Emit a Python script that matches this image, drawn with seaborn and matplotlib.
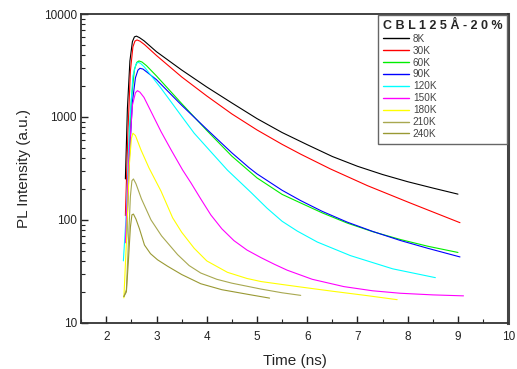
import matplotlib
matplotlib.use("Agg")
import matplotlib.pyplot as plt
import matplotlib.ticker as mticker
import numpy as np
import seaborn as sns

# Leituras do gráfico (tempo em ns, intensidade PL em u.a.)
t_8K = [2.38, 2.42, 2.47, 2.52, 2.56, 2.60, 2.66, 2.75, 3.0, 3.5, 4.0, 4.5, 5.0, 5.5, 6.0, 6.5, 7.0, 7.5, 8.0, 8.5, 9.0]
I_8K = [250, 1200, 3500, 5400, 6000, 6100, 5900, 5500, 4300, 2860, 1955, 1368, 964, 706, 538, 413, 332, 276, 235, 204, 178]

t_30K = [2.38, 2.43, 2.48, 2.53, 2.57, 2.61, 2.67, 2.76, 3.0, 3.5, 4.0, 4.5, 5.0, 5.5, 5.87, 6.46, 7.2, 8.05, 9.04]
I_30K = [110, 700, 2800, 4800, 5450, 5600, 5450, 5050, 3950, 2450, 1600, 1070, 748, 542, 435, 313, 215, 146, 94]

t_60K = [2.40, 2.45, 2.50, 2.56, 2.61, 2.65, 2.71, 2.80, 3.0, 3.5, 4.0, 4.5, 5.0, 5.5, 5.87, 6.3, 6.8, 7.3, 7.85, 8.4, 9.0]
I_60K = [60, 400, 1500, 2900, 3400, 3500, 3420, 3150, 2500, 1350, 740, 416, 256, 177, 146, 117, 93, 77, 64.6, 55.5, 48.3]

t_90K = [2.40, 2.46, 2.52, 2.58, 2.63, 2.67, 2.73, 2.82, 3.0, 3.5, 4.0, 4.5, 4.84, 5.0, 5.5, 5.87, 6.3, 6.8, 7.3, 7.85, 8.4, 9.04]
I_90K = [60, 400, 1400, 2400, 2850, 2970, 2920, 2700, 2300, 1300, 760, 448, 322, 280, 194, 154, 121, 95, 77.4, 63.2, 53, 43.7]

t_120K = [2.34, 2.40, 2.46, 2.53, 2.59, 2.63, 2.68, 2.76, 3.09, 3.5, 3.75, 4.08, 4.41, 4.88, 5.2, 5.5, 5.8, 6.2, 6.86, 7.7, 8.55]
I_120K = [40, 120, 800, 2500, 3250, 3400, 3320, 3050, 1900, 1015, 695, 460, 305, 185, 130, 97, 78, 61, 45, 33.5, 27.5]

t_150K = [2.38, 2.45, 2.52, 2.58, 2.62, 2.67, 2.75, 3.09, 3.29, 3.52, 3.69, 3.88, 4.08, 4.3, 4.54, 4.8, 5.08, 5.35, 5.6, 6.1, 6.73, 7.3, 7.85, 8.5, 9.11]
I_150K = [60, 400, 1300, 1720, 1800, 1740, 1550, 720, 479, 305, 227, 160, 112, 82, 63, 51, 43, 37, 32.5, 26.5, 22.5, 20.5, 19.4, 18.7, 18.3]

t_180K = [2.35, 2.40, 2.46, 2.50, 2.53, 2.58, 2.69, 2.85, 3.09, 3.32, 3.5, 3.75, 4.0, 4.41, 4.8, 5.08, 5.5, 5.87, 6.5, 7.19, 7.79]
I_180K = [17.5, 60, 350, 620, 695, 660, 479, 320, 190, 105, 76, 53, 40, 31, 27, 25.2, 23.6, 22.3, 20.3, 18.4, 16.8]

t_210K = [2.35, 2.40, 2.44, 2.48, 2.51, 2.54, 2.59, 2.70, 2.89, 3.1, 3.42, 3.65, 3.88, 4.2, 4.5, 5.08, 5.5, 5.87]
I_210K = [18, 21, 60, 170, 240, 250, 225, 160, 100, 70, 46, 36, 30.5, 26.5, 24.3, 21.3, 19.6, 18.5]

t_240K = [2.35, 2.40, 2.44, 2.48, 2.51, 2.54, 2.59, 2.66, 2.76, 2.88, 3.02, 3.22, 3.5, 3.88, 4.3, 4.88, 5.25]
I_240K = [18, 20, 40, 85, 112, 114, 102, 82, 57, 47, 41, 35.5, 29.5, 24, 21, 18.7, 17.4]

rotulos = ["8K", "30K", "60K", "90K", "120K", "150K", "180K", "210K", "240K"]
tempos = [t_8K, t_30K, t_60K, t_90K, t_120K, t_150K, t_180K, t_210K, t_240K]
intens = [I_8K, I_30K, I_60K, I_90K, I_120K, I_150K, I_180K, I_210K, I_240K]
cores = ["black", "#ff0000", "#00ee00", "#0000ff", "#00ffff", "#ff00ff",
         "#ffff00", "#a8a850", "#999933"]

sns.set_style("ticks")
plt.rcParams["font.family"] = ["Liberation Sans", "DejaVu Sans"]

fig = plt.figure(figsize=(5.17, 3.69), dpi=100)
ax = fig.add_axes([0.157, 0.125, 0.826, 0.837])

for t, I, lab, c in zip(tempos, intens, rotulos, cores):
    sns.lineplot(x=t, y=I, color=c, label=lab, lw=0.8, ax=ax, sort=False)

ax.set_yscale("log")
ax.set_xlim(1.5, 10)
ax.set_ylim(10, 10000)
ax.xaxis.set_major_locator(mticker.MultipleLocator(1))
ax.xaxis.set_minor_locator(mticker.MultipleLocator(0.5))
ax.yaxis.set_major_locator(mticker.LogLocator(base=10))
ax.yaxis.set_minor_locator(mticker.LogLocator(base=10, subs=np.arange(2, 10)))
ax.yaxis.set_major_formatter(mticker.FuncFormatter(lambda v, _: f"{v:g}"))
ax.yaxis.set_minor_formatter(mticker.NullFormatter())

ax.tick_params(which="both", direction="in", colors="#222222", labelsize=8.5)
ax.tick_params(which="major", length=5, width=1)
ax.tick_params(which="minor", length=3, width=0.8)
ax.tick_params(axis="x", pad=6)
ax.tick_params(axis="y", pad=3)

for lado in ["left", "bottom", "top"]:
    ax.spines[lado].set_color("#333333")
    ax.spines[lado].set_linewidth(1.3)
ax.spines["right"].set_color("#444444")
ax.spines["right"].set_linewidth(2.2)

ax.set_xlabel("Time (ns)", fontsize=11, labelpad=8)
ax.set_ylabel("PL Intensity (a.u.)", fontsize=11, labelpad=9)

leg = ax.legend(title="C B L 1 2 5 Å - 2 0 %", loc="upper right",
                bbox_to_anchor=(1.0, 1.0), borderaxespad=0.1, fontsize=7.2,
                title_fontproperties={"weight": "bold", "size": 9},
                frameon=True, fancybox=False, edgecolor="#666666",
                framealpha=1, handlelength=2.6, handletextpad=0.4,
                labelspacing=0.19, borderpad=0.48, alignment="left")
leg.get_frame().set_linewidth(1.0)
for txt in leg.get_texts():
    txt.set_color("#444444")
for h in leg.get_lines():
    h.set_linewidth(1.0)

fig.savefig("out.png", dpi=100)
